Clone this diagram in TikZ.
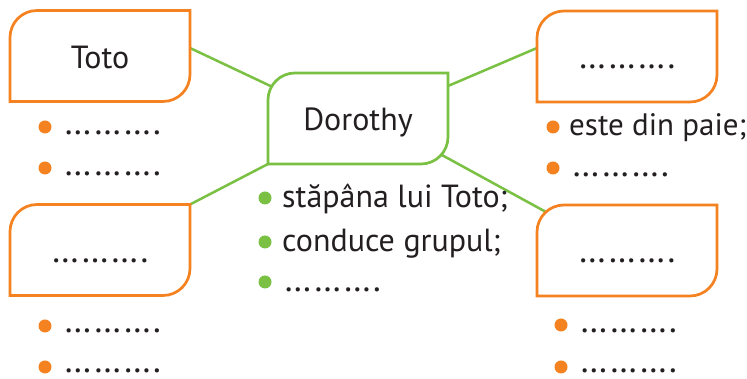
\documentclass[tikz,border=0pt]{standalone}
\usepackage{fontspec}
\setmainfont{PT Sans}
\usetikzlibrary{calc,backgrounds}
\definecolor{orng}{HTML}{F58220}
\definecolor{grn}{HTML}{7AC143}
\definecolor{ink}{HTML}{231F20}
\newcommand{\dotfont}{\fontsize{36}{40}\selectfont}
\tikzset{
  boxnode/.style={minimum width=180pt,minimum height=91pt,inner sep=0pt,outer sep=0pt,
    text height=25pt,text depth=0pt,font=\fontsize{32}{36}\selectfont,text=ink},
  itemtext/.style={anchor=base west,inner sep=0pt,font=\fontsize{32}{36}\selectfont,text=ink},
  odot/.style={circle,fill=orng,minimum size=13pt,inner sep=0pt},
  gdot/.style={circle,fill=grn,minimum size=13pt,inner sep=0pt},
  link/.style={draw=grn,line width=2.5pt},
  obox/.style={draw=orng,line width=2.7pt,fill=white},
  gbox/.style={draw=grn,line width=2.7pt,fill=white}
}
\newcommand{\tabbox}[2]{%
  \path[#2] (#1.south west) -- ([yshift=-27pt]#1.north west)
    arc[start angle=180,end angle=90,radius=27pt] -- (#1.north east)
    -- ([yshift=27pt]#1.south east)
    arc[start angle=0,end angle=-90,radius=27pt] -- cycle;}
\begin{document}
\begin{tikzpicture}[x=1pt,y=1pt]
\begin{scope}[on background layer]
\fill[white] (0,0) rectangle (747,379);
\end{scope}
\useasboundingbox (0,0) rectangle (747,379);
\node[boxnode] (toto) at (100,323) {Toto};
\node[boxnode] (dor) at (358,260.5) {Dorothy};
\node[boxnode,font=\dotfont] (tr) at (627,322.5) {……….};
\node[boxnode,font=\dotfont] (bl) at (100,129) {……….};
\node[boxnode,font=\dotfont] (br) at (627,128.5) {……….};
\begin{scope}[on background layer]
  \draw[link] ([yshift=8pt]toto.east) -- ($(dor.north west)+(30,-26)$);
  \draw[link] ([yshift=-13pt]dor.north east) -- ([yshift=8.5pt]tr.west);
  \draw[link] (dor.south west) -- (bl.north east);
  \draw[link] ($(dor.south east)+(-29.2,21.6)$) -- ($(br.north west)+(30.2,-18.6)$);
  \tabbox{toto}{obox}
  \tabbox{dor}{gbox}
  \tabbox{tr}{obox}
  \tabbox{bl}{obox}
  \tabbox{br}{obox}
\end{scope}
% Toto items
\node[odot] (t1d) at (45,252) {};
\node[itemtext,font=\dotfont] (t1) at (64,244) {……….};
\node[odot] (t2d) at (45,211) {};
\node[itemtext,font=\dotfont] (t2) at (64,203) {……….};
% bottom-left items
\node[odot] (b1d) at (45,53) {};
\node[itemtext,font=\dotfont] (b1) at (64,46) {……….};
\node[odot] (b2d) at (45,12) {};
\node[itemtext,font=\dotfont] (b2) at (64,6) {……….};
% Dorothy items
\node[gdot] (d1d) at (265,181) {};
\node[itemtext] (d1) at (282,171) {stăpâna lui Toto;};
\node[gdot] (d2d) at (265,137) {};
\node[itemtext] (d2) at (282,127) {conduce grupul;};
\node[gdot] (d3d) at (265,97) {};
\node[itemtext,font=\dotfont] (d3) at (284,87) {……….};
% top-right items
\node[odot] (r1d) at (553,252) {};
\node[itemtext,font=\fontsize{31}{36}\selectfont] (r1) at (569,243) {este din paie;};
\node[odot] (r2d) at (553,211) {};
\node[itemtext,font=\dotfont] (r2) at (572,202) {……….};
% bottom-right items
\node[odot] (s1d) at (561,54) {};
\node[itemtext,font=\dotfont] (s1) at (580,46) {……….};
\node[odot] (s2d) at (561,12) {};
\node[itemtext,font=\dotfont] (s2) at (580,6) {……….};
\end{tikzpicture}
\end{document}
